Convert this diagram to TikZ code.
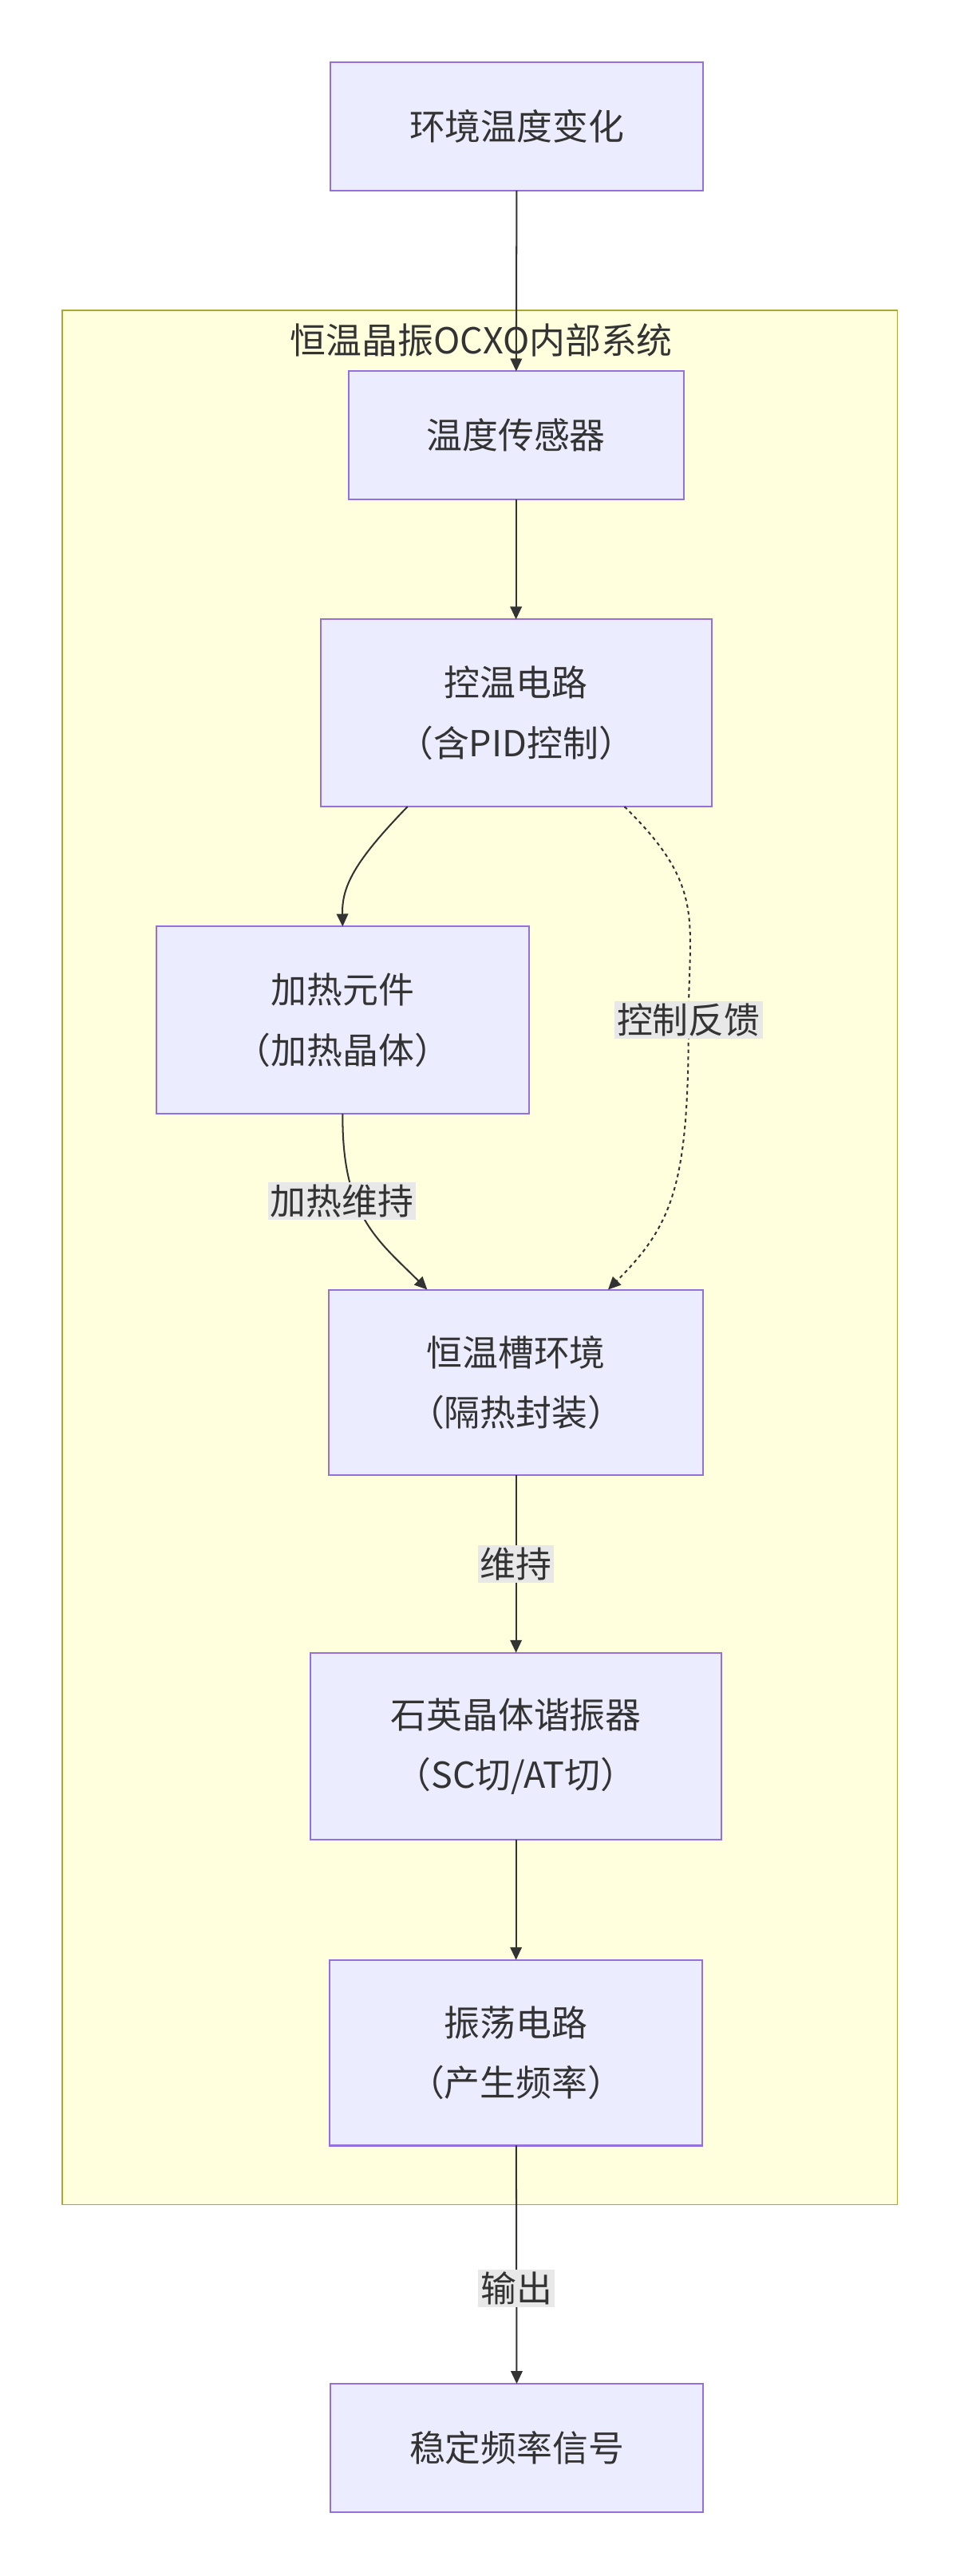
\documentclass[tikz,border=0pt]{standalone}
\usepackage{fontspec}
\setmainfont{Noto Sans CJK SC}
\usetikzlibrary{arrows.meta,calc}
\definecolor{boxBg}{HTML}{ECECFF}
\definecolor{boxBorder}{HTML}{9370DB}
\definecolor{groupBg}{HTML}{FFFFDE}
\definecolor{groupBorder}{HTML}{AAAA33}
\definecolor{lineCol}{HTML}{333333}
\definecolor{labelBg}{HTML}{E8E8E8}
\tikzset{
boxstyle/.style={rectangle, draw=boxBorder, fill=boxBg, line width=1.4pt, align=center, font=\fontsize{31}{52}\selectfont, text=lineCol},
labelstyle/.style={fill=labelBg, inner sep=2pt, font=\fontsize{31}{40}\selectfont, text=lineCol},
linestyle/.style={draw=lineCol, line width=1.4pt, -{Triangle[length=11pt,width=10pt]}}
}
\newcommand{\flowbox}[6]{
  \node [boxstyle, minimum width=#4*0.05cm, minimum height=#5*0.05cm] (#1) at (#2,#3) {#6};
}
\begin{document}
\begin{tikzpicture}[x=0.05cm, y=-0.05cm, inner sep=0, outer sep=0]
\useasboundingbox (0,0) rectangle (584,1568);

% group
\draw [groupBorder, fill=groupBg, line width=1.2pt] (38,189) rectangle (546,1342);
\node [font=\fontsize{31}{40}\selectfont, text=lineCol] (grouptitle) at (293,207) {恒温晶振OCXO内部系统};

\flowbox{env}{314.5}{77}{227}{78}{环境温度变化}
\flowbox{sensor}{314}{265}{204}{78}{温度传感器}
\flowbox{ctrl}{314}{434}{238}{114}{控温电路\\（含PID控制）}
\flowbox{heater}{208.5}{621}{227}{114}{加热元件\\（加热晶体）}
\flowbox{oven}{314}{841.5}{228}{113}{恒温槽环境\\（隔热封装）}
\flowbox{xtal}{314}{1063}{250}{114}{石英晶体谐振器\\（SC切/AT切）}
\flowbox{osc}{314}{1249.5}{227}{113}{振荡电路\\（产生频率）}
\flowbox{out}{314.5}{1490}{227}{78}{稳定频率信号}

\draw [linestyle] (env) -- (sensor);
\draw [linestyle] (sensor) -- (ctrl);
\draw [linestyle] ($(ctrl.south)+(-66,0)$) .. controls (215,525) and (208,540) .. (heater.north);
\draw [linestyle] (heater.south) .. controls (208,740) and (230,755) .. ($(oven.north)+(-54,0)$);
\draw [linestyle, dash pattern=on 3pt off 3pt] ($(ctrl.south)+(66,0)$) .. controls (430,540) and (419,560) .. (419,621) .. controls (419,720) and (410,745) .. ($(oven.north)+(56,0)$);
\node [labelstyle] (lbheat) at (208,731) {加热维持};
\node [labelstyle] (lbfb) at (419,621) {控制反馈};
\draw [linestyle] (oven) -- (xtal) node [labelstyle, midway] (lbkeep) {维持};
\draw [linestyle] (xtal) -- (osc);
\draw [linestyle] (osc) -- (out) node [labelstyle, pos=0.6] (lbout) {输出};
\end{tikzpicture}
\end{document}
